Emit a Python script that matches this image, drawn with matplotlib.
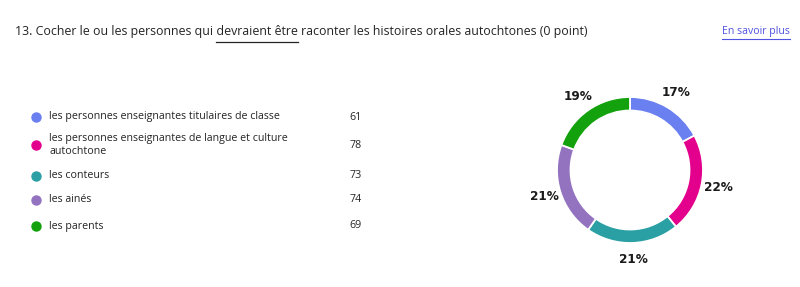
import matplotlib
matplotlib.use("Agg")
import matplotlib.pyplot as plt
from matplotlib.lines import Line2D

# Data
title = "13. Cocher le ou les personnes qui devraient être raconter les histoires orales autochtones (0 point)"
underlined = "devraient être"
labels = [
    "les personnes enseignantes titulaires de classe",
    "les personnes enseignantes de langue et culture\nautochtone",
    "les conteurs",
    "les ainés",
    "les parents",
]
counts = [61, 78, 73, 74, 69]
colors = ["#6A7FF0", "#E3008C", "#2AA0A4", "#9373C0", "#13A10E"]
row_y = [117, 145, 176, 200, 226]  # pixel rows of the legend entries

W, H = 800, 287
fig = plt.figure(figsize=(W / 100, H / 100), dpi=100)
fig.patch.set_facecolor("white")
renderer = fig.canvas.get_renderer()

FONT = "Open Sans"
TXT = "#242424"
LINK = "#4F52E0"


def px(x, y):
    return x / W, 1 - y / H


def width_of(s, fs):
    t = fig.text(0, 0, s, fontsize=fs, family=FONT)
    w = t.get_window_extent(renderer).width
    t.remove()
    return w


def fit(s, target):
    fs = 10.0
    for _ in range(3):
        fs *= target / width_of(s, fs)
    return fs


def underline(x0, x1, y, color, lw):
    fig.add_artist(Line2D([x0 / W, x1 / W], [1 - y / H, 1 - y / H],
                          color=color, lw=lw, transform=fig.transFigure))


# title with underlined words
fs_t = fit(title, 572)
fig.text(*px(15, 32), title, fontsize=fs_t, family=FONT, color=TXT,
         va="center", ha="left")
pre = title.split(underlined)[0]
u0 = 15 + width_of(pre + "d", fs_t) - width_of("d", fs_t)
u1 = 15 + width_of(pre + underlined, fs_t)
underline(u0, u1, 41.5, TXT, 0.9)

fs_l = fit("En savoir plus", 68)
fig.text(*px(790, 31.5), "En savoir plus", fontsize=fs_l, family=FONT,
         color=LINK, va="center", ha="right")
underline(722, 790, 38.5, LINK, 0.8)

# legend list
fs_leg = fit(labels[0], 230)
for lab, n, c, y in zip(labels, counts, colors, row_y):
    fig.add_artist(Line2D([36 / W], [1 - y / H], marker="o", markersize=6.5,
                          color=c, transform=fig.transFigure, lw=0))
    fig.text(*px(49, y), lab, fontsize=fs_leg, family=FONT, color=TXT,
             va="center", ha="left", linespacing=1.2)
    fig.text(*px(362, y), str(n), fontsize=fs_leg, family=FONT, color=TXT,
             va="center", ha="right")

# donut
cx, cy, r = 630, 170, 73
ax = fig.add_axes([(cx - r) / W, (H - cy - r) / H, 2 * r / W, 2 * r / H])
wedges, _, autotexts = ax.pie(
    counts, colors=colors, startangle=90, counterclock=False,
    wedgeprops=dict(width=0.185, edgecolor="white", linewidth=1.3),
    autopct=lambda p: f"{p:.0f}%", pctdistance=1.23,
    textprops=dict(fontsize=8.7, fontweight="bold", family="DejaVu Sans",
                   color="#1a1a1a"))
ax.set_xlim(-1, 1)
ax.set_ylim(-1, 1)
ax.set_aspect("equal")
ax.axis("off")

fig.savefig("out.png", dpi=100, facecolor="white")
